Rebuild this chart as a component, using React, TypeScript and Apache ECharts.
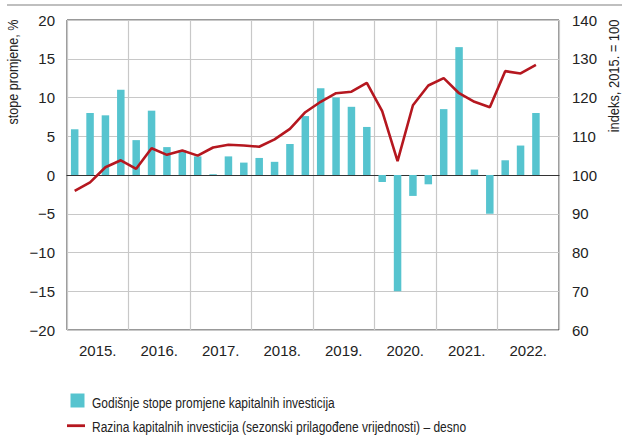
import React, { useEffect, useRef } from "react";
import * as echarts from "echarts";

const years = ["2015.", "2016.", "2017.", "2018.", "2019.", "2020.", "2021.", "2022."];
const quarters = years.flatMap((y) => ["Q1", "Q2", "Q3", "Q4"].map((q) => y + " " + q));

const barName = "Godišnje stope promjene kapitalnih investicija";
const lineName = "Razina kapitalnih investicija (sezonski prilagođene vrijednosti) – desno";

const growthRates = [
  5.9, 8.0, 7.7, 11.0,
  4.5, 8.3, 3.6, 3.2,
  2.4, 0.1, 2.4, 1.6,
  2.2, 1.7, 4.0, 7.6,
  11.2, 10.0, 8.8, 6.2,
  -0.9, -15.0, -2.7, -1.2,
  8.5, 16.5, 0.7, -5.0,
  1.9, 3.8, 8.0, null,
];

const levelIndex = [
  95.9, 98.1, 102.0, 103.8,
  101.6, 106.9, 105.2, 106.3,
  105.0, 107.1, 107.8, 107.6,
  107.3, 109.2, 111.9, 116.2,
  118.9, 121.1, 121.5, 123.8,
  116.5, 103.6, 118.0, 123.1,
  125.0, 121.1, 118.9, 117.5,
  126.8, 126.2, 128.4, null,
];

const leftTitle = "stope promjene, %";
const rightTitle = "indeks, 2015. = 100";

const FONT = "'Liberation Sans', Arial, Helvetica, sans-serif";
const TXT = "#222";
const GRID = "#c8c8c8";
const BAR = "#56c4cf";
const RED = "#b5171f";

export default function App() {
  const ref = useRef<HTMLDivElement>(null);
  useEffect(() => {
    if (!ref.current) return;
    const chart = echarts.init(ref.current, null, { renderer: "svg" });
    chart.setOption({
      animation: false,
      textStyle: { fontFamily: FONT, color: TXT },
      grid: {
        left: 67,
        right: 63,
        top: 20,
        bottom: 105,
        show: true,
        borderColor: "#333",
        borderWidth: 1,
        backgroundColor: "transparent",
      },
      xAxis: [
        {
          type: "category",
          data: quarters,
          position: "bottom",
          axisLine: { show: true, onZero: true, onZeroAxisIndex: 0, lineStyle: { color: "#333", width: 1.2 } },
          axisTick: { show: false },
          axisLabel: { show: false },
          splitLine: { show: false },
        },
        {
          type: "category",
          data: years,
          position: "bottom",
          boundaryGap: true,
          axisLine: { show: false, onZero: false },
          axisTick: { show: false },
          axisLabel: { fontFamily: FONT, fontSize: 15, color: TXT, margin: 13 },
          splitLine: { show: true, lineStyle: { color: GRID, width: 1.2 } },
        },
      ],
      yAxis: [
        {
          type: "value",
          min: -20,
          max: 20,
          interval: 5,
          axisLine: { show: false },
          axisTick: { show: false },
          axisLabel: {
            fontFamily: FONT,
            fontSize: 15,
            color: TXT,
            margin: 12,
            formatter: (v: number) => String(v).replace("-", "\u2212"),
          },
          splitLine: { show: true, lineStyle: { color: GRID, width: 1.2 } },
        },
        {
          type: "value",
          min: 60,
          max: 140,
          interval: 10,
          position: "right",
          axisLine: { show: false },
          axisTick: { show: false },
          axisLabel: { fontFamily: FONT, fontSize: 15, color: TXT, margin: 13 },
          splitLine: { show: false },
        },
      ],
      series: [
        {
          name: barName,
          type: "bar",
          xAxisIndex: 0,
          yAxisIndex: 0,
          data: growthRates,
          barWidth: 7.5,
          itemStyle: { color: BAR },
        },
        {
          name: lineName,
          type: "line",
          xAxisIndex: 0,
          yAxisIndex: 1,
          data: levelIndex,
          symbol: "none",
          lineStyle: { color: RED, width: 2.6 },
          itemStyle: { color: RED },
          z: 5,
        },
      ],
      graphic: [
        {
          type: "line",
          shape: { x1: 7, y1: 5, x2: 622, y2: 5 },
          style: { stroke: "#808080", lineWidth: 1.2 },
        },
        {
          type: "text",
          x: 13,
          y: 72,
          rotation: Math.PI / 2,
          scaleX: 0.84,
          style: {
            text: leftTitle,
            fontFamily: FONT,
            fontSize: 15,
            fill: TXT,
            align: "center",
            verticalAlign: "middle",
          },
        },
        {
          type: "text",
          x: 614,
          y: 76,
          rotation: Math.PI / 2,
          scaleX: 0.92,
          style: {
            text: rightTitle,
            fontFamily: FONT,
            fontSize: 14,
            fill: TXT,
            align: "center",
            verticalAlign: "middle",
          },
        },
        {
          type: "rect",
          shape: { x: 70.5, y: 393.5, width: 14, height: 14 },
          style: { fill: BAR },
        },
        {
          type: "text",
          x: 92,
          y: 403,
          scaleX: 0.8,
          style: {
            text: barName,
            fontFamily: FONT,
            fontSize: 15,
            fill: TXT,
            align: "left",
            verticalAlign: "middle",
          },
        },
        {
          type: "line",
          shape: { x1: 67, y1: 425.7, x2: 85, y2: 425.7 },
          style: { stroke: RED, lineWidth: 2.8 },
        },
        {
          type: "text",
          x: 92,
          y: 427.5,
          scaleX: 0.8,
          style: {
            text: lineName,
            fontFamily: FONT,
            fontSize: 15,
            fill: TXT,
            align: "left",
            verticalAlign: "middle",
          },
        },
      ],
    });
    return () => chart.dispose();
  }, []);
  return (
    <div
      ref={ref}
      style={{ position: "absolute", left: 0, top: 0, width: 622, height: 435, background: "#fff" }}
    />
  );
}
